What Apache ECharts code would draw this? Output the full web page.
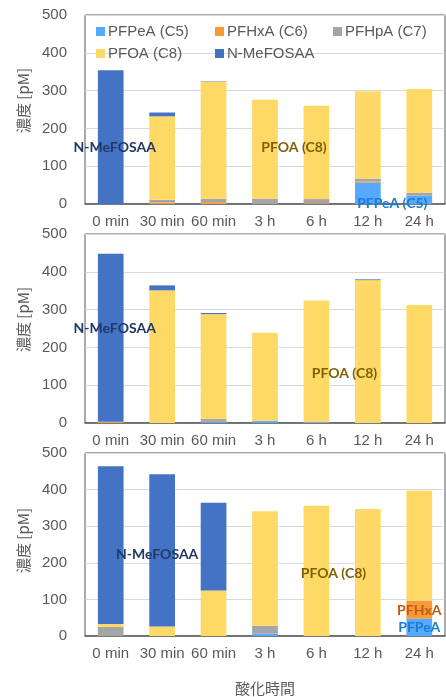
<!DOCTYPE html>
<html>
<head>
<meta charset="utf-8">
<script src="https://cdn.jsdelivr.net/npm/echarts@6/dist/echarts.min.js"></script>
<style>html,body{margin:0;padding:0;background:#fff}#c{width:446px;height:697px}</style>
</head>
<body>
<div id="c"></div>
<script>
const categories = ['0 min', '30 min', '60 min', '3 h', '6 h', '12 h', '24 h'];
const seriesNames = ['PFPeA (C5)', 'PFHxA (C6)', 'PFHpA (C7)', 'PFOA (C8)', 'N-MeFOSAA'];
const yTicks = [0, 100, 200, 300, 400, 500];

// Panel 1 (top)
const p1PFPeA = [0, 0, 0, 0, 0, 56, 22];
const p1PFHxA = [0, 4, 5, 0, 2, 3, 0];
const p1PFHpA = [0, 7, 9, 14, 11, 8, 8];
const p1PFOA  = [0, 221, 310, 262, 247, 231, 274];
const p1NMe   = [354, 10, 1, 0, 0, 0, 0];

// Panel 2 (middle)
const p2PFPeA = [0, 0, 5, 5, 0, 0, 0];
const p2PFHxA = [3, 0, 3, 0, 0, 0, 0];
const p2PFHpA = [0, 0, 3, 0, 4, 0, 0];
const p2PFOA  = [0, 351, 277, 234, 320, 378, 312];
const p2NMe   = [445, 13, 3, 0, 0, 2, 0];

// Panel 3 (bottom)
const p3PFPeA = [0, 0, 0, 7, 0, 0, 47];
const p3PFHxA = [0, 0, 0, 0, 0, 0, 50];
const p3PFHpA = [25, 0, 0, 21, 0, 0, 0];
const p3PFOA  = [8, 26, 124, 313, 356, 347, 300];
const p3NMe   = [431, 416, 240, 0, 0, 0, 0];

const panels = [
  [p1PFPeA, p1PFHxA, p1PFHpA, p1PFOA, p1NMe],
  [p2PFPeA, p2PFHxA, p2PFHpA, p2PFOA, p2NMe],
  [p3PFPeA, p3PFHxA, p3PFHpA, p3PFOA, p3NMe]
];

// In-chart series name labels: [panel, series, categoryIndex, text]
const annotations = [
  [0, 4, 0, 'N-MeFOSAA'], [0, 3, 3, 'PFOA (C8)'], [0, 0, 6, 'PFPeA (C5)'],
  [1, 4, 0, 'N-MeFOSAA'], [1, 3, 4, 'PFOA (C8)'],
  [2, 4, 1, 'N-MeFOSAA'], [2, 3, 4, 'PFOA (C8)'], [2, 1, 6, 'PFHxA'], [2, 0, 6, 'PFPeA']
];
const annStyle = [
  {color: '#1f3864', offset: [4, 10]}, {color: '#7f6000', offset: [29, -2]}, {color: '#1a7bd6', offset: [-27, 4]},
  {color: '#1f3864', offset: [4, -9]}, {color: '#7f6000', offset: [28, 12]},
  {color: '#1f3864', offset: [-5, 4]}, {color: '#7f6000', offset: [17, 3]}, {color: '#c55a11', offset: [0, 1]}, {color: '#1a7bd6', offset: [0, 0]}
];

const colors = ['#55a9ff', '#f89a3a', '#a5a5a5', '#ffd966', '#4472c4'];
const txt = '#595959';
const grids = [
  {left: 85, right: 1, top: 15, height: 189},
  {left: 85, right: 1, top: 234, height: 189},
  {left: 85, right: 1, top: 453, height: 190}
];

const series = [];
panels.forEach((arrs, p) => {
  arrs.forEach((arr, s) => {
    const data = arr.map((v, i) => {
      const k = annotations.findIndex(a => a[0] === p && a[1] === s && a[2] === i);
      if (k < 0) return v;
      const st = annStyle[k];
      return {
        value: v,
        label: {
          show: true, position: 'inside', formatter: annotations[k][3],
          color: st.color, offset: st.offset, fontFamily: 'Lato', fontWeight: 'bold', fontSize: 14
        }
      };
    });
    series.push({
      type: 'bar', name: seriesNames[s], stack: 'p' + p,
      xAxisIndex: p, yAxisIndex: p, barWidth: '50%',
      itemStyle: {color: colors[s]}, data: data, animation: false
    });
  });
});

const legendPos = [[96, 24], [215, 24], [333, 24], [96, 46], [215, 46]];
const legends = seriesNames.map((n, i) => ({
  data: [n], left: legendPos[i][0], top: legendPos[i][1],
  itemWidth: 9, itemHeight: 9, icon: 'rect', itemGap: 0, padding: 0,
  textStyle: {color: txt, fontSize: 15, fontFamily: 'Liberation Sans', padding: [0, 0, 0, -2]}
}));

const option = {
  animation: false,
  color: colors,
  legend: legends,
  grid: grids.map(g => Object.assign({show: true, borderColor: '#595959', borderWidth: 1}, g)),
  xAxis: [0, 1, 2].map(p => ({
    type: 'category', gridIndex: p, data: categories,
    name: p === 2 ? '酸化時間' : '', nameLocation: 'middle', nameGap: 45,
    nameTextStyle: {color: txt, fontSize: 15, fontFamily: 'Noto Sans CJK JP'},
    axisTick: {show: false},
    axisLine: {lineStyle: {color: '#595959', width: 1.5}},
    axisLabel: {color: txt, fontSize: 15, fontFamily: 'Liberation Sans', interval: 0, margin: 10}
  })),
  yAxis: [0, 1, 2].map(p => ({
    type: 'value', gridIndex: p, min: yTicks[0], max: yTicks[yTicks.length - 1], interval: 100,
    name: '濃度 [pM]', nameLocation: 'middle', nameGap: 54,
    nameTextStyle: {color: txt, fontSize: 15, fontFamily: 'Noto Sans CJK JP', padding: p === 2 ? [0,0,0,8] : [0, 0, 0, 18]},
    axisLine: {show: false}, axisTick: {show: false},
    splitLine: {lineStyle: {color: '#d9d9d9'}},
    axisLabel: {color: txt, fontSize: 15, fontFamily: 'Liberation Sans', margin: 18}
  })),
  series: series
};
echarts.init(document.getElementById('c'), null, {renderer: 'canvas'}).setOption(option);
</script>
</body>
</html>
